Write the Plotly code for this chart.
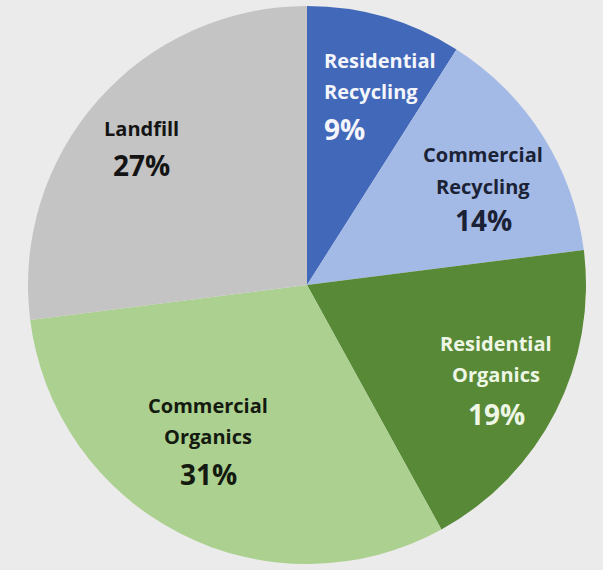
import plotly.graph_objects as go

# ---- data ----
labels = ["Residential<br>Recycling", "Commercial<br>Recycling", "Residential<br>Organics",
          "Commercial<br>Organics", "Landfill"]
values = [9, 14, 19, 31, 27]

# ---- style ----
colors = ["#4268ba", "#a4bae6", "#588936", "#abd08f", "#c4c4c4"]
text_colors = ["#f4f6fb", "#1b2236", "#eef6e6", "#141a10", "#141414"]

W, H = 603, 570
cx, cy, r = 307, 285, 279

# label placement (pixel positions of the first text line, alignment)
label_pos = [
    (322, 60, "left"),
    (483, 155, "center"),
    (496, 343, "center"),
    (208, 405, "center"),
    (141, 128, "center"),
]
line_gap = 31
pct_gap = [38, 34, 40, 38, 37]
label_size = 20
pct_size = 28
font_family = "Open Sans, Liberation Sans, sans-serif"

fig = go.Figure(go.Pie(
    labels=[l.replace("<br>", " ") for l in labels],
    values=values,
    sort=False,
    direction="clockwise",
    rotation=0,
    marker=dict(colors=colors, line=dict(width=0)),
    textinfo="none",
    hoverinfo="label+percent",
    showlegend=False,
    domain=dict(x=[(cx - r) / W, (cx + r) / W], y=[(H - cy - r) / H, (H - cy + r) / H]),
))

total = sum(values)
annotations = []
for lab, val, (px, py, align), tc, pg in zip(labels, values, label_pos, text_colors, pct_gap):
    lines = lab.split("<br>")
    xanchor = "left" if align == "left" else "center"
    y = py
    for ln in lines:
        annotations.append(dict(
            x=px / W, y=1 - y / H, xref="paper", yref="paper",
            text=f"<b>{ln}</b>", showarrow=False, xanchor=xanchor, yanchor="middle",
            font=dict(family=font_family, size=label_size, color=tc),
        ))
        y += line_gap
    y = y - line_gap + pg
    annotations.append(dict(
        x=px / W, y=1 - y / H, xref="paper", yref="paper",
        text=f"<b>{round(100 * val / total)}%</b>", showarrow=False,
        xanchor=xanchor, yanchor="middle",
        font=dict(family=font_family, size=pct_size, color=tc),
    ))

fig.update_layout(
    width=W, height=H,
    margin=dict(l=0, r=0, t=0, b=0),
    paper_bgcolor="#ebebeb",
    plot_bgcolor="#ebebeb",
    annotations=annotations,
)
fig.write_html("out.html", config={"displayModeBar": False},
               post_script="document.body.style.margin='0';document.body.style.background='#ebebeb';")
